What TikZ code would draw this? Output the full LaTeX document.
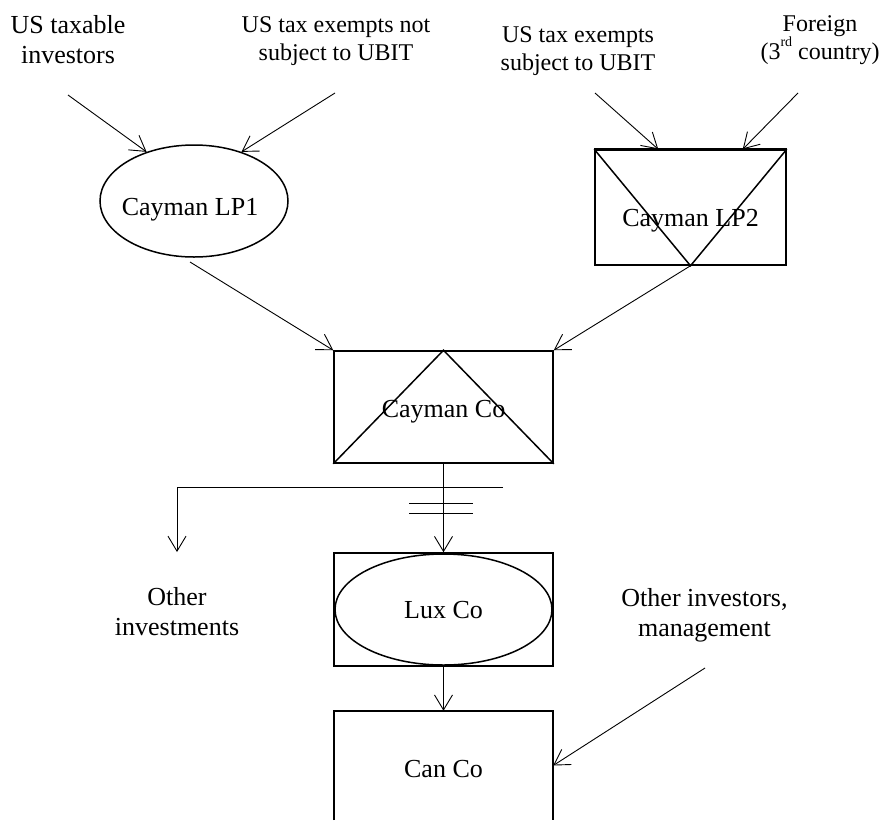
\documentclass[tikz,border=0pt]{standalone}
\usepackage{fontspec}
\setmainfont{Liberation Serif}
\usetikzlibrary{arrows.meta,shapes.geometric}
\begin{document}
\begin{tikzpicture}[x=1pt,y=-1pt,
  conn/.style={line width=0.9pt,-{Straight Barb[length=15pt,width=18pt]}},
  plain/.style={line width=0.9pt},
  boxline/.style={line width=1.5pt},
  box/.style={draw,rectangle,boxline,inner sep=0pt},
  oval/.style={draw,ellipse,boxline,inner sep=0pt},
  lbl/.style={align=center,inner sep=0pt,anchor=north,font=\fontsize{26}{30}\selectfont},
  slbl/.style={align=center,inner sep=0pt,anchor=north,font=\fontsize{24}{28}\selectfont},
  txt/.style={inner sep=0pt,anchor=base,font=\fontsize{26}{30}\selectfont}]
\useasboundingbox (0,0) rectangle (883,820);

% top labels
\node[lbl]  (t1) at (68,15)  {US taxable\\investors};
\node[slbl] (t2) at (336,16) {US tax exempts not\\subject to UBIT};
\node[slbl] (t3) at (578,26) {US tax exempts\\subject to UBIT};
\node[slbl] (t4) at (820,15) {Foreign\\(3\raisebox{13pt}{\fontsize{14}{14}\selectfont rd} country)};

% Cayman LP1
\node[oval,minimum width=188pt,minimum height=112pt] (lp1) at (194,201) {};
\node[txt] (lp1t) at (190,215) {Cayman LP1};

% Cayman LP2
\node[box,minimum width=191pt,minimum height=115pt] (lp2) at (690.5,207.5) {};
\draw[boxline] (lp2.north west) -- (lp2.south) -- (lp2.north east);
\draw[line width=2.4pt] (lp2.north west) -- (lp2.north east);
\node[txt] (lp2t) at (690.5,226) {Cayman LP2};

% Cayman Co
\node[box,minimum width=219pt,minimum height=112pt] (cco) at (443.5,407) {};
\draw[boxline] (cco.south west) -- (cco.north) -- (cco.south east);
\node[txt] (ccot) at (443.5,417) {Cayman Co};

% Lux Co
\node[box,minimum width=219pt,minimum height=113pt] (lux) at (443.5,609.5) {};
\node[oval,minimum width=217pt,minimum height=111pt] (luxe) at (443.5,609.5) {};
\node[txt] (luxt) at (443.5,618) {Lux Co};

% Can Co (box runs off the bottom edge)
\node[inner sep=0pt,minimum width=219pt,minimum height=109pt] (can) at (443.5,765.5) {};
\draw[boxline] (can.south west) -- (can.north west) -- (can.north east) -- (can.south east);
\node[txt] (cant) at (443.5,777) {Can Co};

% side labels
\node[lbl] (oinv) at (177,587) {Other\\investments};
\node[lbl] (oim)  at (704.5,588) {Other investors,\\management};

% free ends
\coordinate (s1) at (68,95);
\coordinate (s2) at (335,93);
\coordinate (s3) at (595,93);
\coordinate (s4) at (798,93);
\coordinate (s5) at (190,262);
\coordinate (hr) at (503,487);
\coordinate (hl) at (177,487);
\coordinate (oi) at (177,552);
\coordinate (b1l) at (409,503);
\coordinate (b1r) at (473,503);
\coordinate (b2l) at (409,513);
\coordinate (b2r) at (473,513);
\coordinate (s6) at (705,668);

% connectors
\draw[conn] (s1) -- (lp1.134);
\draw[conn] (s2) -- (lp1.46);
\draw[conn] (s3) -- ([xshift=64pt]lp2.north west);
\draw[conn] (s4) -- ([xshift=-44pt]lp2.north east);
\draw[conn] (s5) -- (cco.north west);
\draw[conn] (lp2.south) -- (cco.north east);
\draw[conn] (cco.south) -- (lux.north);
\draw[plain] (hr) -- (hl);
\draw[conn] (hl) -- (oi);
\draw[plain] (b1l) -- (b1r);
\draw[plain] (b2l) -- (b2r);
\draw[conn] (lux.south) -- (can.north);
\draw[conn] (s6) -- (can.east);
\end{tikzpicture}
\end{document}
